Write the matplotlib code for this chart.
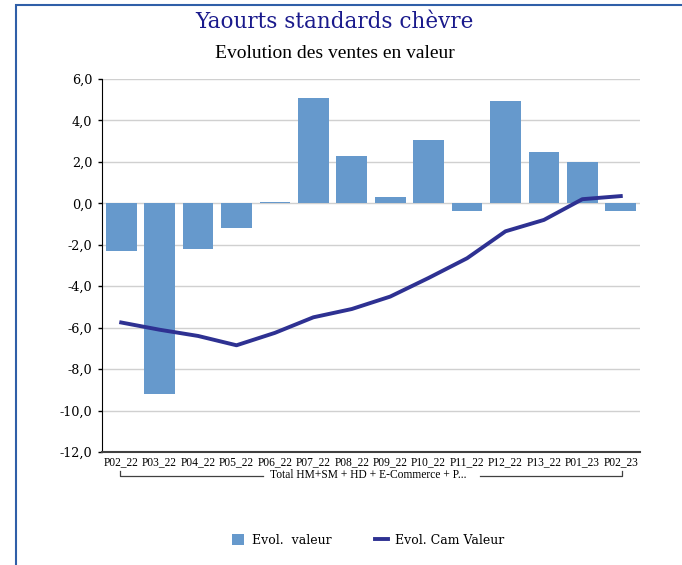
import matplotlib.pyplot as plt
from matplotlib.patches import Rectangle
from matplotlib.lines import Line2D
import numpy as np

# Data
periods = ['P02_22', 'P03_22', 'P04_22', 'P05_22', 'P06_22', 'P07_22', 'P08_22',
           'P09_22', 'P10_22', 'P11_22', 'P12_22', 'P13_22', 'P01_23', 'P02_23']
evol_valeur = [-2.3, -9.2, -2.2, -1.2, 0.05, 5.1, 2.27, 0.3, 3.05, -0.35, 4.93, 2.46, 2.0, -0.35]
evol_cam = [-5.75, -6.1, -6.4, -6.85, -6.25, -5.5, -5.1, -4.5, -3.6, -2.65, -1.35, -0.8, 0.2, 0.35]
yticks = np.arange(-12, 7, 2)

times = ['Liberation Serif', 'DejaVu Serif']
century = ['DejaVu Serif']
plt.rcParams['font.family'] = times

fig = plt.figure(figsize=(6.82, 5.65), dpi=100)
# blue frame (top and left edges visible)
fig.patches.append(Rectangle((16/682, -0.05), 1.2, 1 - 5/565 + 0.05, transform=fig.transFigure,
                             fill=False, edgecolor='#2f5fa8', linewidth=1.5))

ax = fig.add_axes([102/682, 1 - 452/565, (640 - 102)/682, (452 - 79)/565])
x = np.arange(len(periods))
bars = ax.bar(x, evol_valeur, width=0.8, color='#6699cc', zorder=2)
line, = ax.plot(x, evol_cam, color='#2e3192', linewidth=2.8, zorder=3)

ax.set_ylim(-12, 6)
ax.set_xlim(-0.5, len(periods) - 0.5)
ax.set_yticks(yticks)
ax.yaxis.set_major_formatter(plt.FuncFormatter(lambda v, p: ('%.1f' % v).replace('.', ',')))
ax.grid(axis='y', color='#d0d0d0', linewidth=1, zorder=0)
ax.set_xticks(x)
ax.set_xticklabels(periods, fontsize=8.3)
ax.tick_params(axis='x', length=0, pad=3)
ax.tick_params(axis='y', length=3, width=1, pad=4)
for lbl in ax.get_yticklabels():
    lbl.set_family(century)
    lbl.set_fontsize(9.2)
for s in ['top', 'right']:
    ax.spines[s].set_visible(False)
ax.spines['left'].set_color('black')
ax.spines['bottom'].set_color('#404040')
ax.spines['bottom'].set_linewidth(1.5)

# titles
fig.text(334/682, 1 - 22/565, 'Yaourts standards chèvre', ha='center', va='center',
         fontsize=15.5, color='#1a1a8c', family=century)
fig.text(335/682, 1 - 53/565, 'Evolution des ventes en valeur', ha='center', va='center',
         fontsize=14, color='black')

# group bracket below category labels
yb = 1 - 476/565
ytop = 1 - 471/565
fig.add_artist(Line2D([120/682, 120/682, 263/682], [ytop, yb, yb], transform=fig.transFigure,
                      color='#404040', linewidth=0.9))
fig.add_artist(Line2D([480/682, 622/682, 622/682], [yb, yb, ytop], transform=fig.transFigure,
                      color='#404040', linewidth=0.9))
fig.text(368/682, 1 - 475/565, 'Total HM+SM + HD + E-Commerce + P...', ha='center', va='center',
         fontsize=8.3)

# legend
fig.legend([bars, line], ['Evol.  valeur', 'Evol. Cam Valeur'], loc='center',
           bbox_to_anchor=(368/682, 1 - 540/565), ncol=2, frameon=False,
           prop={'family': century, 'size': 9}, handlelength=1.0, handleheight=1.0,
           columnspacing=3.5, handletextpad=0.6)

fig.savefig('out.png', dpi=100)
